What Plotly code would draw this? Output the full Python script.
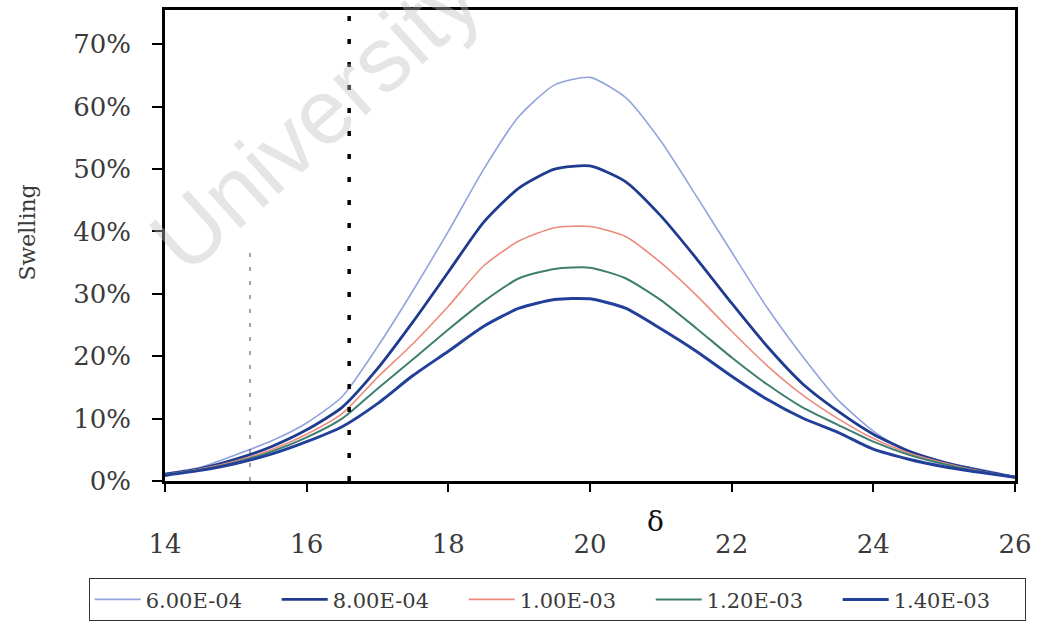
import plotly.graph_objects as go

delta = [14, 14.5, 15, 15.5, 16, 16.5, 17, 17.5, 18, 18.5, 19, 19.5, 20,
         20.5, 21, 21.5, 22, 22.5, 23, 23.5, 24, 24.5, 25, 25.5, 26]

s_6e4 = [1.2, 2.2, 4.2, 6.4, 9.3, 13.5, 21.5, 30.5, 40.0, 50.0, 58.5, 63.5, 64.7,
         61.5, 54.5, 45.7, 36.7, 27.8, 20.0, 13.0, 8.0, 4.6, 3.0, 1.9, 0.7]
s_8e4 = [1.1, 2.0, 3.5, 5.5, 8.2, 11.8, 18.0, 25.5, 33.5, 41.5, 47.0, 50.0, 50.5,
         48.0, 42.5, 35.7, 28.5, 21.6, 15.6, 11.2, 7.5, 4.8, 3.0, 1.7, 0.6]
s_1e3 = [1.0, 1.9, 3.2, 5.0, 7.5, 10.8, 16.6, 22.0, 28.0, 34.5, 38.5, 40.6, 40.8,
         39.2, 35.0, 29.8, 24.0, 18.5, 13.8, 10.0, 6.8, 4.5, 2.9, 1.6, 0.6]
s_12e3 = [1.0, 1.8, 3.0, 4.7, 7.0, 10.0, 14.8, 19.5, 24.3, 28.8, 32.5, 34.0, 34.2,
          32.5, 29.0, 24.5, 19.8, 15.5, 11.8, 9.0, 6.3, 4.2, 2.7, 1.5, 0.6]
s_14e3 = [0.9, 1.7, 2.8, 4.3, 6.3, 8.7, 12.4, 16.9, 20.8, 24.8, 27.7, 29.1, 29.2,
          27.7, 24.4, 20.8, 16.8, 13.1, 10.1, 7.8, 5.1, 3.5, 2.3, 1.4, 0.6]

series_names = ["6.00E-04", "8.00E-04", "1.00E-03", "1.20E-03", "1.40E-03"]
series_values = [s_6e4, s_8e4, s_1e3, s_12e3, s_14e3]
series_colors = ["#93a3dc", "#1f3b8f", "#ec8a7c", "#3f7f70", "#22409a"]
series_widths = [1.6, 2.8, 1.6, 2.0, 3.0]

marker_lines_x = [16.6, 15.2]
thin_line_top = 0.38
x_ticks = [14, 16, 18, 20, 22, 24, 26]
y_ticks = [0, 0.1, 0.2, 0.3, 0.4, 0.5, 0.6, 0.7]

fig = go.Figure()
for name, vals, col, w in zip(series_names, series_values, series_colors, series_widths):
    fig.add_trace(go.Scatter(
        x=delta, y=[v / 100 for v in vals], name=name, mode="lines",
        line=dict(color=col, width=w, shape="spline", smoothing=0.6),
    ))

# vertical reference lines
fig.add_shape(type="line", xref="x", yref="paper", x0=marker_lines_x[0], x1=marker_lines_x[0],
              y0=0, y1=1, line=dict(color="black", width=3.5, dash="5px,18px"))
fig.add_shape(type="line", xref="x", yref="y", x0=marker_lines_x[1], x1=marker_lines_x[1],
              y0=0, y1=thin_line_top, line=dict(color="#444444", width=1, dash="4px,10px"))

serif = "DejaVu Serif"
txt = "#3a3a3a"

fig.update_layout(
    width=1039, height=626,
    margin=dict(l=165, r=24, t=10, b=145, autoexpand=False),
    paper_bgcolor="white", plot_bgcolor="white",
    showlegend=True,
    legend=dict(
        orientation="h", xref="paper", x=-0.09, xanchor="left",
        yref="paper", y=-0.206, yanchor="top",
        font=dict(family=serif, size=21, color=txt),
        bordercolor="#333333", borderwidth=1.2, bgcolor="white",
        itemwidth=46, entrywidth=126, entrywidthmode="pixels", tracegroupgap=0,
    ),
    xaxis=dict(
        range=[14, 26], tickvals=x_ticks, ticktext=[str(t) for t in x_ticks],
        showgrid=False, zeroline=False, showline=True, linecolor="black", linewidth=2.5,
        mirror=True, ticks="outside", ticklen=8, tickwidth=1.5, tickcolor="black",
        ticklabelstandoff=30, automargin=False,
        tickfont=dict(family=serif, size=26, color=txt),
    ),
    yaxis=dict(
        range=[0, 0.755], tickvals=y_ticks, tickformat=".0%",
        showgrid=False, zeroline=False, showline=True, linecolor="black", linewidth=2.5,
        mirror=True, ticks="outside", ticklen=10, tickwidth=1.5, tickcolor="black",
        ticklabelstandoff=16, automargin=False,
        tickfont=dict(family=serif, size=26, color=txt),
    ),
    annotations=[
        dict(text="Swelling", xref="paper", yref="paper", x=-0.162, y=0.528,
             xanchor="center", yanchor="middle",
             textangle=-90, showarrow=False, font=dict(family=serif, size=22, color=txt)),
        dict(text="δ", xref="paper", yref="paper", x=0.5765, y=-0.087,
             xanchor="center", yanchor="middle",
             showarrow=False, font=dict(family=serif, size=28, color="#111111")),
        dict(text="University", xref="paper", yref="paper", x=(315 - 165) / 850, y=(481 - 118) / 471,
             xanchor="center", yanchor="middle",
             textangle=-42, showarrow=False,
             font=dict(family="Liberation Sans", size=92, color="rgba(190,190,190,0.4)")),
    ],
)

fig.write_html("out.html")
